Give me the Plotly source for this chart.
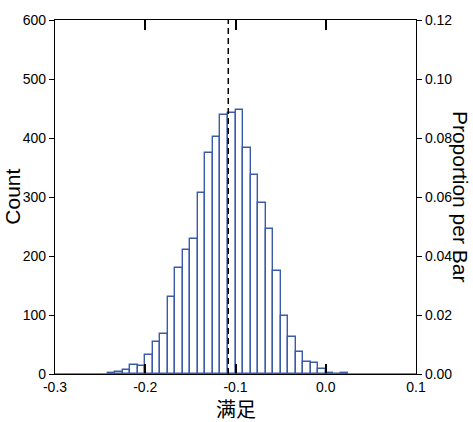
import plotly.graph_objects as go

# Histogram data (bin width = 1/120, first bin starts at -0.2 - 5/120)
bin_width = 1.0 / 120.0
first_bin_index = -5  # relative to -0.2
counts = [2, 4, 7, 15, 13, 33, 54, 67, 130, 179, 210, 228, 306, 374, 401,
          439, 442, 447, 383, 337, 289, 246, 175, 99, 63, 38, 20, 18, 9, 2, 0, 2]
total_n = 5000
mean_value = -0.108

x_ticks = [-0.3, -0.2, -0.1, 0.0, 0.1]
x_tick_labels = ["-0.3", "-0.2", "-0.1", "0.0", "0.1"]
y_ticks = [0, 100, 200, 300, 400, 500, 600]
y2_ticks = [0.00, 0.02, 0.04, 0.06, 0.08, 0.10, 0.12]

x_title = "满足"
y_title = "Count"
y2_title = "Proportion per Bar"

bar_color = "#3a5ba8"
font_family = "Liberation Sans, Arial, sans-serif"

centers = [-0.2 + (first_bin_index + i + 0.5) * bin_width for i in range(len(counts))]

fig = go.Figure()
fig.add_trace(go.Bar(
    x=centers, y=counts, width=bin_width,
    marker=dict(color="white", line=dict(color=bar_color, width=1.4)),
    showlegend=False, hoverinfo="x+y",
))
# invisible trace on secondary y axis to activate it
fig.add_trace(go.Scatter(x=[None], y=[None], yaxis="y2", showlegend=False))

# blue baseline
fig.add_shape(type="line", x0=0, x1=1, y0=0, y1=0, xref="paper", yref="y",
              line=dict(color=bar_color, width=1.5), layer="above")
# mean line
fig.add_shape(type="line", x0=mean_value, x1=mean_value, y0=0, y1=1,
              xref="x", yref="paper",
              line=dict(color="black", width=1.5, dash="6px,4px"))

tick_font = dict(family=font_family, size=14, color="black")

fig.update_layout(
    width=473, height=422,
    margin=dict(l=54.5, r=56.5, t=12, b=48),
    plot_bgcolor="white", paper_bgcolor="white",
    bargap=0,
    xaxis=dict(range=[-0.3, 0.1], tickvals=x_ticks, ticktext=x_tick_labels,
               ticks="inside", ticklen=10, tickcolor="black", tickwidth=1.5,
               showline=True, linecolor="black", linewidth=1.2, mirror="ticks",
               showgrid=False, zeroline=False, tickfont=tick_font),
    yaxis=dict(range=[0, 600], tickvals=y_ticks, ticks="outside", ticklen=5,
               tickcolor="black", tickwidth=1.2, showline=True, linecolor="black",
               linewidth=1.2, showgrid=False, zeroline=False, tickfont=tick_font),
    yaxis2=dict(range=[0, 600 / total_n], overlaying="y", side="right",
                tickvals=y2_ticks, tickformat=".2f", ticks="outside", ticklen=5,
                tickcolor="black", tickwidth=1.2, showline=True, linecolor="black",
                linewidth=1.2, showgrid=False, zeroline=False, tickfont=tick_font),
    annotations=[
        dict(text=y_title, xref="paper", yref="paper", x=-0.12, y=0.5,
             xanchor="center", yanchor="middle", textangle=-90, showarrow=False,
             font=dict(family=font_family, size=21, color="black")),
        dict(text=y2_title, xref="paper", yref="paper", x=1.125, y=0.5,
             xanchor="center", yanchor="middle", textangle=90, showarrow=False,
             font=dict(family=font_family, size=21, color="black")),
        dict(text=x_title, xref="paper", yref="paper", x=0.5, y=-0.097,
             xanchor="center", yanchor="middle", showarrow=False, height=22,
             font=dict(family="Noto Sans CJK SC, sans-serif", size=20, color="black")),
    ],
)

fig.write_html("out.html")
